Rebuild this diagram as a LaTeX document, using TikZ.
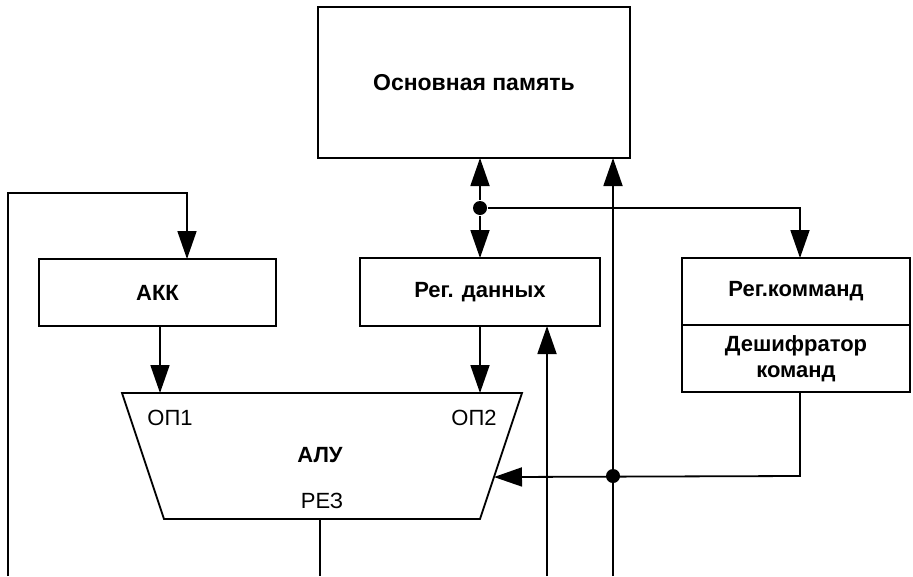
\documentclass[tikz,border=0pt]{standalone}
\usepackage{fontspec}
\setmainfont{Liberation Sans}
\usetikzlibrary{arrows.meta,calc}
\begin{document}
\begin{tikzpicture}[x=1pt,y=-1pt,
  line width=1.8pt,
  box/.style={draw,rectangle,inner sep=0pt,outer sep=0pt,font=\fontsize{22}{26}\selectfont\bfseries,align=center},
  conn/.style={-{Triangle[length=28pt,width=19pt]}},
  dot/.style={circle,fill,inner sep=0pt,minimum size=14pt},
  lbl/.style={font=\fontsize{22}{26}\selectfont,inner sep=0pt}]
\useasboundingbox (0,0) rectangle (913,576);
\node[box,minimum width=312pt,minimum height=151pt,font=\fontsize{23}{27}\selectfont\bfseries] (mem) at (474,82.5) {Основная память};
\node[box,minimum width=237pt,minimum height=67pt] (akk) at (157.5,292.5) {АКК};
\node[box,minimum width=240pt,minimum height=68pt] (rd) at (480,292) {Рег. данных};
\node[box,minimum width=228pt,minimum height=67pt] (rk) at (796,291.5) {Рег.комманд};
\node[box,minimum width=228pt,minimum height=67pt,anchor=north] (dc) at (rk.south) {Дешифратор\\команд};
% ALU
\coordinate (atl) at (122,393);
\coordinate (atr) at (522,393);
\coordinate (abr) at (480,519);
\coordinate (abl) at (164,519);
\draw[line join=miter] (atl) -- (atr) -- (abr) -- (abl) -- cycle;
\node[lbl] (op1) at (170,418) {ОП1};
\node[lbl] (op2) at (474,418) {ОП2};
\node[lbl,font=\fontsize{22}{26}\selectfont\bfseries] (alu) at (320,455) {АЛУ};
\node[lbl] (rez) at (322,501) {РЕЗ};
\coordinate (ain) at ($(atr)!0.667!(abr)$);
% coordinates
\coordinate (c1) at (8,576);
\coordinate (c2) at (8,193);
\coordinate (c3) at (187,193);
\coordinate (b1) at (320,576);
\coordinate (b2) at (547,576);
\coordinate (b3) at (613,576);
\node[dot] (d1) at (480,208) {};
\node[dot] (d2) at (613,476) {};
\coordinate (r1) at (800,208);
\coordinate (r2) at (800,476);
% connectors
\draw[conn] (c1) -- (c2) -- (c3) -- (akk.north -| c3);
\draw[conn] (akk.south -| 160,0) -- (160,393);
\draw[conn] (d1) -- (mem.south -| d1);
\draw[conn] (d1) -- (rd.north);
\draw[conn] (d1) -- (r1) -- (rk.north -| r1);
\draw[conn] (rd.south) -- (rd.south |- atl);
\draw[conn] (b2) -- (rd.south -| b2);
\draw[conn] (b3) -- (mem.south -| b3);
\draw[conn] (dc.south -| r2) -- (r2) -- (ain);
\draw (abl -| b1) -- (b1);
\end{tikzpicture}
\end{document}
